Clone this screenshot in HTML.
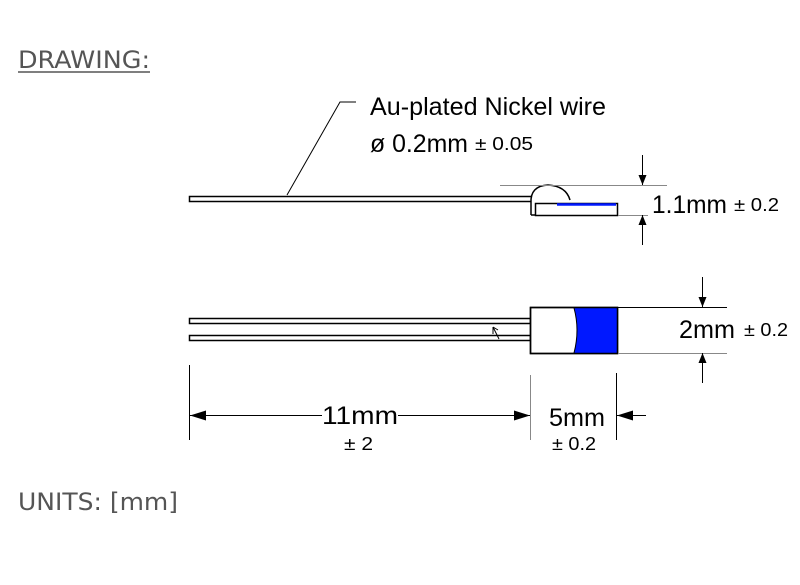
<!DOCTYPE html>
<html><head><style>body{margin:0;background:#fff}svg{display:block}</style></head>
<body>
<svg width="800" height="585" viewBox="0 0 800 585" xmlns="http://www.w3.org/2000/svg">
<defs>
<marker id="ah" viewBox="0 0 10 10" refX="10" refY="5" markerWidth="10" markerHeight="10" markerUnits="userSpaceOnUse" orient="auto">
<path d="M0,1 L10,5 L0,9 Z" fill="#000"/>
</marker>
<marker id="ah2" viewBox="0 0 16 10" refX="16" refY="5" markerWidth="16" markerHeight="10" markerUnits="userSpaceOnUse" orient="auto">
<path d="M0,0 L16,5 L0,10 Z" fill="#000"/>
</marker>
</defs>
<g font-family="DejaVu Sans, sans-serif" fill="#555">
<text x="18" y="68" font-size="24" textLength="132" lengthAdjust="spacingAndGlyphs">DRAWING:</text>
<line x1="18" y1="72" x2="150" y2="72" stroke="#555" stroke-width="1.5"/>
<text x="18" y="510" font-size="24" textLength="160" lengthAdjust="spacingAndGlyphs">UNITS: [mm]</text>
</g>
<g font-family="Liberation Sans, Arial, sans-serif" fill="#000" lengthAdjust="spacingAndGlyphs">
<text x="370" y="115" font-size="25" textLength="236" lengthAdjust="spacingAndGlyphs">Au-plated Nickel wire</text>
<text x="370" y="152" font-size="25" textLength="98" lengthAdjust="spacingAndGlyphs">ø 0.2mm</text>
<text x="475" y="150" font-size="18" textLength="58" lengthAdjust="spacingAndGlyphs">± 0.05</text>
<text x="652" y="213" font-size="25" textLength="75" lengthAdjust="spacingAndGlyphs">1.1mm</text>
<text x="734" y="211" font-size="18" textLength="45" lengthAdjust="spacingAndGlyphs">± 0.2</text>
<text x="679" y="338" font-size="25" textLength="56" lengthAdjust="spacingAndGlyphs">2mm</text>
<text x="744" y="336" font-size="18" textLength="44" lengthAdjust="spacingAndGlyphs">± 0.2</text>
<text x="322" y="424" font-size="25" textLength="76" lengthAdjust="spacingAndGlyphs">11mm</text>
<text x="344" y="450" font-size="18" textLength="29" lengthAdjust="spacingAndGlyphs">± 2</text>
<text x="549" y="426" font-size="25" textLength="56" lengthAdjust="spacingAndGlyphs">5mm</text>
<text x="552" y="450" font-size="18" textLength="44" lengthAdjust="spacingAndGlyphs">± 0.2</text>
</g>
<g stroke="#000" fill="none">
<polyline points="287,195 340,102 356,102" stroke-width="1"/>
<rect x="189.5" y="196.5" width="342" height="5" fill="#fff" stroke-width="1.5"/>
<path d="M531,203 Q530,186 548,185 Q566,186 570,200" fill="#fff" stroke-width="1.5"/>
<rect x="535.5" y="203.5" width="82" height="12" fill="#fff" stroke-width="1.5"/>
<line x1="531" y1="203" x2="531" y2="215" stroke-width="1.5"/>
<line x1="531" y1="215" x2="536" y2="215" stroke-width="1.5"/>
<line x1="557" y1="204.5" x2="616" y2="204.5" stroke="#0018ff" stroke-width="2.5"/>
<line x1="500" y1="185.5" x2="667" y2="185.5" stroke="#888" stroke-width="1"/>
<line x1="618" y1="215.5" x2="648" y2="215.5" stroke="#888" stroke-width="1"/>
<line x1="642.5" y1="155" x2="642.5" y2="185" stroke-width="1" marker-end="url(#ah)"/>
<line x1="642.5" y1="245" x2="642.5" y2="215" stroke-width="1" marker-end="url(#ah)"/>
<rect x="189.5" y="318.5" width="341" height="5" fill="#fff" stroke-width="1.5"/>
<rect x="189.5" y="335.5" width="341" height="5" fill="#fff" stroke-width="1.5"/>
<rect x="530.5" y="307.5" width="87" height="46" fill="#fff" stroke-width="1.5"/>
<path d="M574,308 Q580,330 574,353 L617,353 L617,308 Z" fill="#0018ff" stroke="none"/>
<path d="M574,308 Q580,330 574,353" stroke-width="1"/>
<rect x="530.5" y="307.5" width="87" height="46" stroke-width="1.5"/>
<line x1="618" y1="307.5" x2="727" y2="307.5" stroke-width="1"/>
<line x1="618" y1="353.5" x2="727" y2="353.5" stroke="#888" stroke-width="1"/>
<line x1="702.5" y1="277" x2="702.5" y2="307" stroke-width="1" marker-end="url(#ah)"/>
<line x1="702.5" y1="383" x2="702.5" y2="353" stroke-width="1" marker-end="url(#ah)"/>
<path d="M493,327 L499,339 M493,327 L493,334 M493,327 L498,330" stroke-width="1"/>
<line x1="189.5" y1="365" x2="189.5" y2="440" stroke-width="1"/>
<line x1="530.5" y1="375" x2="530.5" y2="440" stroke="#888" stroke-width="1"/>
<line x1="616.5" y1="373" x2="616.5" y2="440" stroke-width="1"/>
<line x1="322" y1="415.5" x2="190" y2="415.5" stroke-width="1" marker-end="url(#ah2)"/>
<line x1="398" y1="415.5" x2="530" y2="415.5" stroke-width="1" marker-end="url(#ah2)"/>
<line x1="646" y1="415.5" x2="617" y2="415.5" stroke-width="1" marker-end="url(#ah2)"/>
</g>
</svg>
</body></html>
